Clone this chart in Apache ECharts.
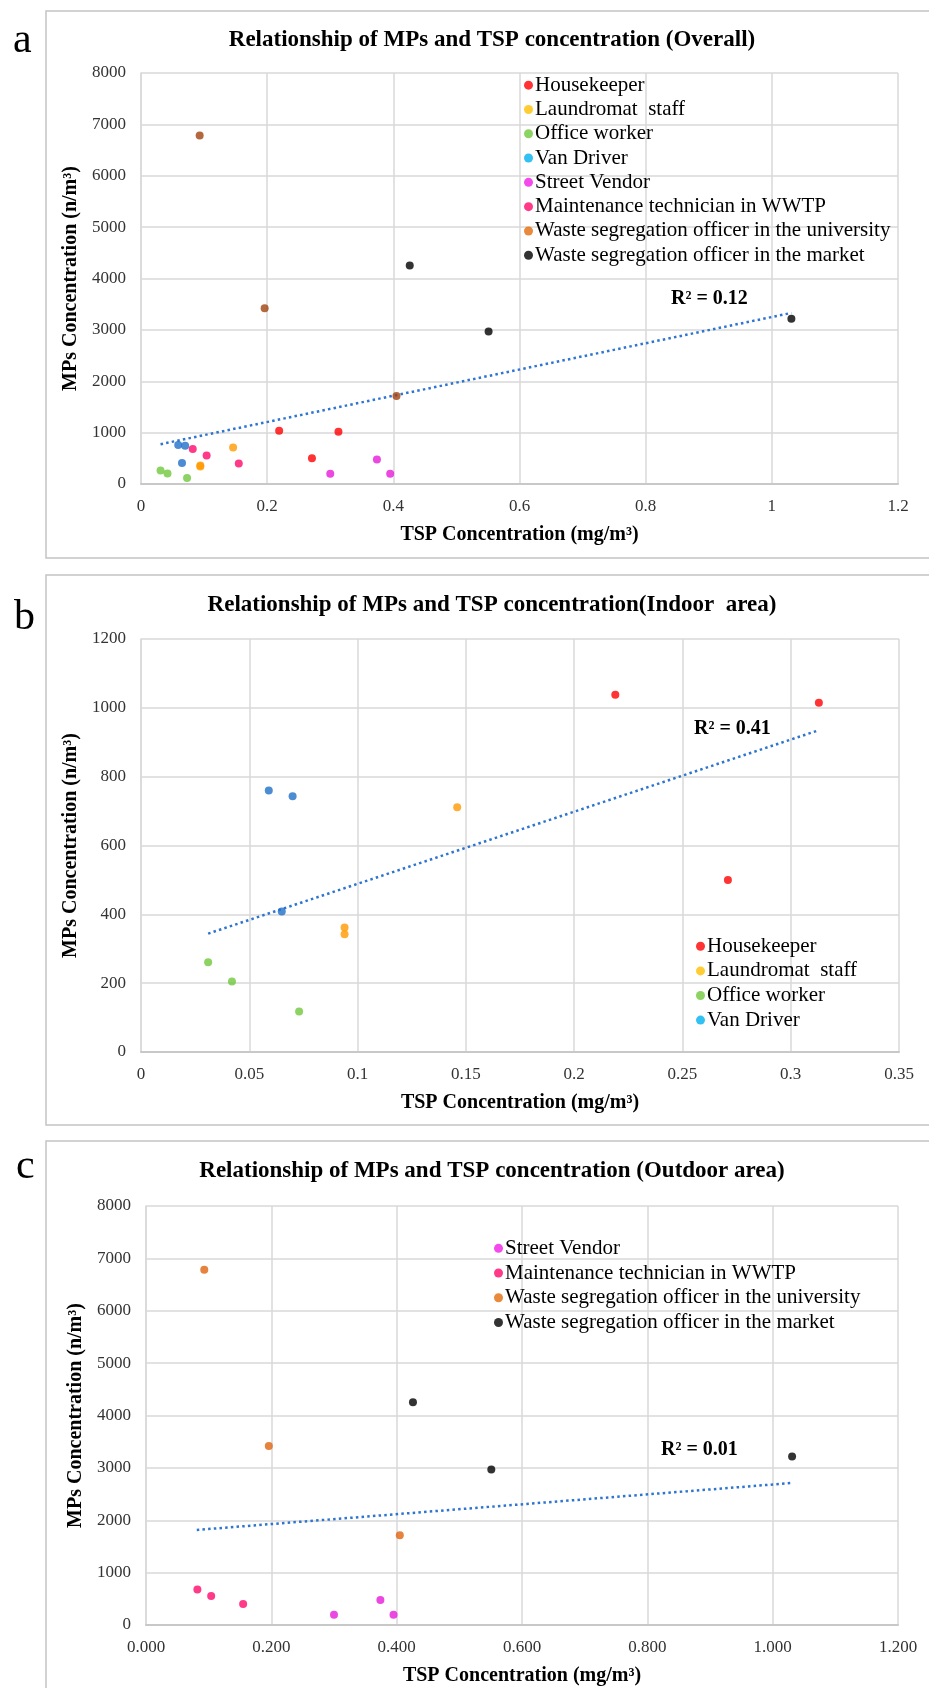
<!DOCTYPE html>
<html><head><meta charset="utf-8">
<script src="https://cdn.jsdelivr.net/npm/echarts@6/dist/echarts.min.js"></script>
<style>html,body{margin:0;padding:0;background:#fff}#c{width:929px;height:1688px}</style>
</head><body><div id="c"></div>
<script>
const FONT = "Liberation Serif";

// ---- data: [TSP mg/m³, MPs n/m³] ----
// indoor groups
const housekeeper   = [[0.219,1038],[0.313,1015],[0.271,500]];
const laundromat    = [[0.146,711],[0.094,362],[0.094,342]];
const officeWorker  = [[0.031,261],[0.042,205],[0.073,118]];
const vanDriver     = [[0.059,760],[0.070,743],[0.065,408]];
// outdoor groups
const streetVendor  = [[0.300,198],[0.374,479],[0.395,198]];
const maintenance   = [[0.082,680],[0.104,553],[0.155,401]];
const univOfficer   = [[0.093,6785],[0.196,3420],[0.405,1715]];
const marketOfficer = [[0.426,4253],[0.551,2968],[1.031,3218]];
// trend lines (endpoints)
const trendA = [[0.031,775],[1.031,3330]];
const trendB = [[0.031,344],[0.313,935]];
const trendC = [[0.081,1815],[1.031,2712]];
const r2Labels = ['R² = 0.12','R² = 0.41','R² = 0.01'];
const panelTitles = ['Relationship of MPs and TSP concentration (Overall)',
  'Relationship of MPs and TSP concentration(Indoor  area)',
  'Relationship of MPs and TSP concentration (Outdoor area)'];
const panelLetters = ['a','b','c'];
// tick labels
const xTicksA = ['0','0.2','0.4','0.6','0.8','1','1.2'];
const xTicksB = ['0','0.05','0.1','0.15','0.2','0.25','0.3','0.35'];
const xTicksC = ['0.000','0.200','0.400','0.600','0.800','1.000','1.200'];
const yTicksAC = ['0','1000','2000','3000','4000','5000','6000','7000','8000'];
const yTicksB = ['0','200','400','600','800','1000','1200'];
const names = ['Housekeeper','Laundromat  staff','Office worker','Van Driver','Street Vendor',
  'Maintenance technician in WWTP','Waste segregation officer in the university','Waste segregation officer in the market'];

const ptColor = {
  'Housekeeper':'#ff0000','Laundromat  staff':'#ff9a00','Office worker':'#6fc83c','Van Driver':'#1f6fc8',
  'Street Vendor':'#e61ad9','Maintenance technician in WWTP':'#ff0a6c',
  'Waste segregation officer in the university':'#e0640f','Waste segregation officer in the market':'#000000'};
const legColor = {
  'Housekeeper':'#ff0000','Laundromat  staff':'#ffc000','Office worker':'#6fc83c','Van Driver':'#00b0f0',
  'Street Vendor':'#f21de6','Maintenance technician in WWTP':'#ff0a6c',
  'Waste segregation officer in the university':'#e36c0a','Waste segregation officer in the market':'#000000'};
const groupData = {
  'Housekeeper':housekeeper,'Laundromat  staff':laundromat,'Office worker':officeWorker,'Van Driver':vanDriver,
  'Street Vendor':streetVendor,'Maintenance technician in WWTP':maintenance,
  'Waste segregation officer in the university':univOfficer,'Waste segregation officer in the market':marketOfficer};

const grids = [
  {left:141, top:73, width:757, height:411},
  {left:141, top:639, width:758, height:413},
  {left:146, top:1206, width:752, height:419}
];
const lblStyle = {fontFamily:FONT, fontSize:17, color:'#333'};
function xAxis(i, max, interval, ticks){
  return {type:'value', gridIndex:i, min:0, max:max, interval:interval,
    name:'TSP Concentration (mg/m³)', nameLocation:'middle', nameGap:41,
    nameTextStyle:{fontFamily:FONT, fontSize:20, fontWeight:'bold', color:'#000'},
    axisLine:{show:true, lineStyle:{color:'#c8c8c8', width:2}}, axisTick:{show:false},
    axisLabel:Object.assign({margin:14, formatter:(v,idx)=>ticks[idx]}, lblStyle),
    splitLine:{show:true, lineStyle:{color:'#d9d9d9', width:1.5}}};
}
function yAxis(i, max, interval, ticks){
  return {type:'value', gridIndex:i, min:0, max:max, interval:interval,
    name:'MPs Concentration (n/m³)', nameLocation:'middle', nameGap:58,
    nameTextStyle:{fontFamily:FONT, fontSize:20, fontWeight:'bold', color:'#000'},
    axisLine:{show:true, lineStyle:{color:'#d9d9d9', width:1.5}}, axisTick:{show:false},
    axisLabel:Object.assign({margin:15, formatter:(v,idx)=>ticks[idx]}, lblStyle),
    splitLine:{show:true, lineStyle:{color:'#d9d9d9', width:1.5}}};
}
const series = [];
function addScatter(i, nm, color){
  series.push({type:'scatter', name:nm, xAxisIndex:i, yAxisIndex:i, data:groupData[nm],
    symbol:'circle', symbolSize:8, itemStyle:{color:color||ptColor[nm]}, z:3});
}
function addTrend(i, data){
  series.push({type:'line', name:'trend'+i, xAxisIndex:i, yAxisIndex:i, data:data, symbol:'none',
    lineStyle:{color:'#2e75d0', width:2.5, type:[2.5,3.2]}, z:2});
}
// panel a (overall)
addTrend(0, trendA);
names.forEach(n => addScatter(0, n, n==='Waste segregation officer in the university' ? '#a0420f' : null));
// panel b (indoor)
addTrend(1, trendB);
names.slice(0,4).forEach(n => addScatter(1, n));
// panel c (outdoor)
addTrend(2, trendC);
names.slice(4).forEach(n => addScatter(2, n));

function legend(left, top, list, lh){
  return {orient:'vertical', left:left, top:top, padding:0, itemGap:0, itemWidth:9, itemHeight:9,
    icon:'circle', selectedMode:false,
    textStyle:{fontFamily:FONT, fontSize:21, color:'#000', lineHeight:lh, padding:[0,0,0,-3]},
    data:list.map(n=>({name:n, icon:'circle', itemStyle:{color:legColor[n]},
      textStyle:{fontFamily:FONT, fontSize:21, color:'#000'}}))};
}

const graphic = [];
const boxes = [{y:11,h:547},{y:575,h:550},{y:1141,h:620}];
boxes.forEach(b => graphic.push({type:'rect', shape:{x:46,y:b.y,width:950,height:b.h},
  style:{fill:'none', stroke:'#c4c4c4', lineWidth:1.5}, silent:true, z:-1}));
const titleY = [40, 605, 1171];
const letterPos = [[13,41],[14,618],[16,1167]];
titleY.forEach((y,i) => {
  graphic.push({type:'text', x:492, y:y, style:{text:panelTitles[i], fontFamily:FONT, fontSize:23, fontWeight:'bold',
    fill:'#000', textAlign:'center', textVerticalAlign:'middle'}});
  graphic.push({type:'text', x:letterPos[i][0], y:letterPos[i][1], style:{text:panelLetters[i],
    fontFamily:FONT, fontSize:42, fill:'#000', textAlign:'left', textVerticalAlign:'middle'}});
});
const r2Pos = [[671,299],[694,729],[661,1450]];
r2Pos.forEach((p,i) => graphic.push({type:'text', x:p[0], y:p[1], style:{text:r2Labels[i],
  fontFamily:FONT, fontSize:20, fontWeight:'bold', fill:'#000', textAlign:'left', textVerticalAlign:'middle'}}));

const chart = echarts.init(document.getElementById('c'), null, {renderer:'canvas', width:929, height:1688});
chart.setOption({
  animation:false,
  backgroundColor:'#fff',
  textStyle:{fontFamily:FONT},
  grid:grids,
  xAxis:[xAxis(0,1.2,0.2,xTicksA), xAxis(1,0.35,0.05,xTicksB), xAxis(2,1.2,0.2,xTicksC)],
  yAxis:[yAxis(0,8000,1000,yTicksAC), yAxis(1,1200,200,yTicksB), yAxis(2,8000,1000,yTicksAC)],
  legend:[legend(524, 73, names, 24.3), legend(696, 934, names.slice(0,4), 24.6), legend(494, 1236, names.slice(4), 24.7)],
  graphic:graphic,
  series:series
});
</script></body></html>
